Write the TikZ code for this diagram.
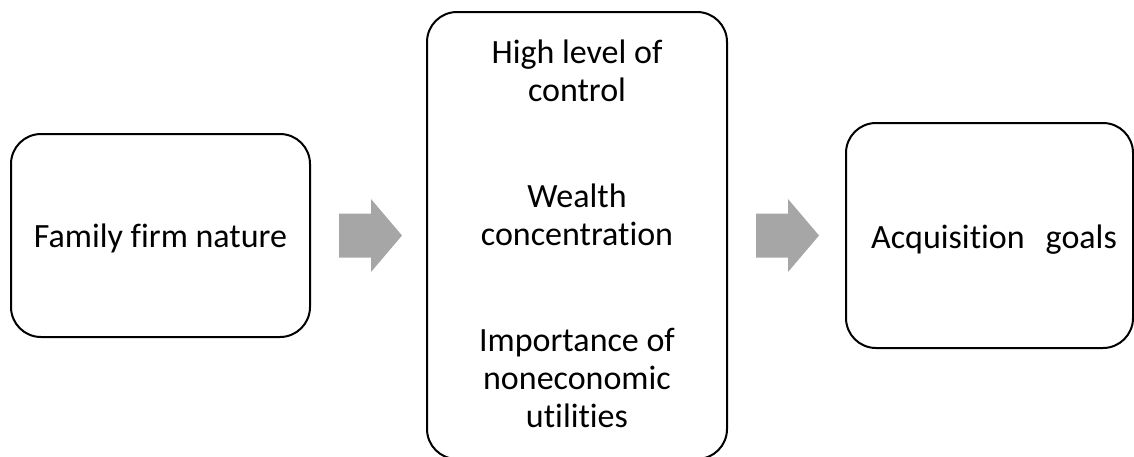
\documentclass[tikz,border=0pt]{standalone}
\usepackage{fontspec}
\setmainfont[Ligatures=NoCommon]{Carlito}
\usetikzlibrary{calc}
\definecolor{arrowgray}{HTML}{A6A6A6}
\tikzset{
  box/.style={draw=black, line width=2pt, rounded corners=30pt, inner sep=0pt},
  label/.style={font=\fontsize{34}{38}\selectfont, align=center, inner sep=0pt, anchor=base},
  blockarrow/.pic={\fill[arrowgray] (-31.5,-22) -- (0.5,-22) -- (0.5,-36.5) -- (31.5,0)
                   -- (0.5,36.5) -- (0.5,22) -- (-31.5,22) -- cycle;}
}
\begin{document}
\begin{tikzpicture}[x=1pt,y=-1pt]
  \useasboundingbox (0,0) rectangle (1134,456);
  % the three boxes
  \node[box, minimum width=299pt, minimum height=203pt] (nature) at (160.5,235.5) {};
  \node[box, minimum width=300pt, minimum height=447pt] (traits) at (577,235.5) {};
  \node[box, minimum width=287pt, minimum height=225pt] (goals) at (989.5,235.5) {};
  % texts (anchored at the baseline of their last line)
  \node[label] (tnature) at (160.5,247) {Family firm nature};
  \node[label] (tcontrol) at (577,101) {High level of\\control};
  \node[label] (twealth) at (577,245) {Wealth\\concentration};
  \node[label] (tutil) at (577,427) {Importance of\\noneconomic\\utilities};
  \node[label] (tgoals) at (994,248) {Acquisition~~\,goals};
  % block arrows between the boxes
  \coordinate (m1) at ($(nature.east)!0.5!(traits.west)+(2,0)$);
  \coordinate (m2) at ($(traits.east)!0.5!(goals.west)+(1,0)$);
  \pic at (m1) {blockarrow};
  \pic at (m2) {blockarrow};
\end{tikzpicture}
\end{document}
